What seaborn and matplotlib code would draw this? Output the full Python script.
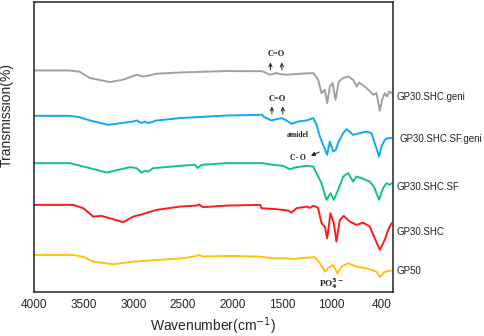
import numpy as np
import pandas as pd
import matplotlib
matplotlib.use('Agg')
import matplotlib.pyplot as plt
import seaborn as sns

# FTIR spectra (offset transmission, arbitrary units)
wn_geni = [4000, 3640, 3540, 3436, 3235, 3104, 2966, 2900, 2852, 2765, 2530, 2060, 1700, 1624, 1560, 1506,
           1455, 1321, 1187, 1137, 1103, 1070, 1046, 1019, 992, 962, 929, 885, 835, 785, 750, 724, 650, 583,
           550, 516, 493, 465, 442, 422, 398]
t_geni = [229.3, 229.3, 228, 221.7, 217.7, 220, 225, 223.3, 224, 226, 227.3, 228.7, 228.5, 225, 226.7, 225.5,
          225, 226, 226.7, 220, 206.7, 210, 196.7, 213.3, 216.7, 200, 218.3, 221.7, 223.3, 220, 213.3, 217.3,
          211.7, 205, 206.7, 189, 200, 206.7, 203.3, 208.3, 206.7]

wn_sf_geni = [4000, 3640, 3540, 3436, 3252, 3000, 2966, 2916, 2885, 2849, 2765, 2530, 2060, 1700, 1691, 1607,
              1557, 1506, 1456, 1405, 1338, 1254, 1187, 1153, 1120, 1087, 1046, 1020, 986, 959, 936, 885, 851,
              785, 718, 650, 600, 567, 523, 499, 466, 432, 398]
t_sf_geni = [184, 184, 182.5, 179.3, 175, 178.3, 179.3, 176.7, 178.3, 176.7, 179.3, 181.7, 184.3, 185, 183.3,
             179.3, 180.7, 181.7, 179.3, 176, 178.3, 179.3, 181.7, 175, 163.3, 155, 145, 158.3, 148.3, 150, 157,
             166.7, 170.7, 165, 166.7, 168.3, 166.7, 156.7, 143.3, 153.3, 160, 161.7, 161.7]

wn_sf = [4000, 3640, 3436, 3269, 3033, 2966, 2916, 2885, 2849, 2799, 2530, 2379, 2352, 2312, 2060, 1700, 1590,
         1490, 1422, 1355, 1254, 1187, 1137, 1103, 1053, 1013, 979, 936, 885, 835, 785, 751, 701, 617, 576,
         523, 483, 449, 416, 398]
t_sf = [136.7, 136.7, 131.7, 127.3, 132.7, 131.7, 127.3, 129, 128.3, 131.7, 134, 135, 131.7, 135, 136.7, 136.7,
        135, 134, 130.7, 132.7, 134, 133.3, 123.3, 116.7, 100, 106.7, 100, 110, 123.3, 126.7, 118.3, 123.3,
        121.7, 118.3, 113.3, 100, 111.7, 116.7, 115, 116.7]

wn_shc = [4000, 3604, 3503, 3403, 3319, 3202, 3101, 3000, 2933, 2765, 2530, 2362, 2340, 2295, 2060, 1720, 1708,
          1557, 1439, 1405, 1355, 1300, 1254, 1220, 1190, 1153, 1137, 1103, 1070, 1046, 1013, 979, 953, 919,
          879, 818, 751, 684, 617, 567, 516, 466, 432, 398]
t_shc = [95, 95, 91.7, 83.3, 84, 80.7, 77.7, 83.3, 85, 90, 93.3, 94.3, 95.5, 92.7, 94.3, 95, 91.7, 90.7, 89.3,
         87.3, 91.7, 92.5, 93.3, 92, 94, 93, 91.7, 76.7, 73.3, 61.7, 86.7, 76.7, 58.3, 80, 84, 78.3, 75, 77.3,
         73.3, 61.7, 50, 60, 70, 76.7]

wn_gp50 = [4000, 3604, 3500, 3403, 3201, 3000, 2497, 2362, 2340, 2300, 1993, 1725, 1591, 1456, 1389, 1321,
           1188, 1170, 1120, 1070, 1019, 986, 942, 902, 835, 751, 650, 550, 516, 466, 398]
t_gp50 = [45, 45, 43, 38.3, 35.7, 38.3, 41.7, 44, 45, 43.5, 44, 43.3, 41.7, 41.7, 40.7, 41.7, 42.7, 42.7,
          36.7, 28.3, 33.3, 35, 26.7, 33.3, 36.7, 33.3, 31.7, 28.3, 22.7, 28.3, 29.3]

samples = ['GP30.SHC.geni', 'GP30.SHC.SF.geni', 'GP30.SHC.SF', 'GP30.SHC', 'GP50']
colors = ['#a0a0a0', '#12a8f0', '#14c47a', '#ff1a1a', '#ffc20e']
xticks = [4000, 3500, 3000, 2500, 2000, 1500, 1000, 400]

spectra = {
    'GP30.SHC.geni': (wn_geni, t_geni),
    'GP30.SHC.SF.geni': (wn_sf_geni, t_sf_geni),
    'GP30.SHC.SF': (wn_sf, t_sf),
    'GP30.SHC': (wn_shc, t_shc),
    'GP50': (wn_gp50, t_gp50),
}
df = pd.concat([pd.DataFrame({'wavenumber': w, 'T': t, 'sample': s}) for s, (w, t) in spectra.items()],
               ignore_index=True)

sns.set_theme(style='white')
plt.rcParams['font.family'] = ['Liberation Sans', 'DejaVu Sans']

fig = plt.figure(figsize=(4.84, 3.36), dpi=100)
ax = fig.add_axes([0.0702, 0.131, 0.742, 0.864])

sns.lineplot(data=df, x='wavenumber', y='T', hue='sample', hue_order=samples,
             palette=colors, legend=False, linewidth=1.4, sort=False, ax=ax)

ax.set_xlim(4000, 382)
ax.set_ylim(8, 298)
ax.set_xticks(xticks)
ax.set_xticklabels([str(v) for v in xticks], fontsize=8.5)
for lab in ax.get_xticklabels():
    if lab.get_text() == '400':
        lab.set_ha('right')
ax.set_yticks([])
ax.tick_params(axis='x', length=0, pad=5)
for sp in ax.spines.values():
    sp.set_color('#222222')
    sp.set_linewidth(1.1)

ax.set_xlabel('Wavenumber(cm$^{-1}$)', fontsize=10, labelpad=3)
ax.set_ylabel('Transmission(%)', fontsize=10)
ax.yaxis.set_label_coords(-0.056, 0.61)

# sample names on the right
label_y = [0.711, 0.586, 0.443, 0.310, 0.193]
label_x = [0.820, 0.826, 0.820, 0.820, 0.820]
for s, x, y in zip(samples, label_x, label_y):
    fig.text(x, y, s, fontsize=7, va='center', ha='left', color='#222222')

# peak annotations
serif = dict(family='Liberation Serif', fontweight='bold', color='#222222')
ax.text(1563, 246, 'C=O', fontsize=6, ha='center', va='center', **serif)
ax.text(1553, 201, 'C=O', fontsize=6, ha='center', va='center', **serif)
for x0, y0, y1 in [(1618, 227, 240), (1503, 227, 240), (1603, 183, 196), (1493, 183, 196)]:
    ax.annotate('', xy=(x0, y1), xytext=(x0, y0),
                arrowprops=dict(arrowstyle='->', color='#222222', lw=0.7, mutation_scale=6))
ax.text(1342, 165, 'amidel', fontsize=5.5, ha='center', va='center', **serif)
ax.text(1342, 142, 'C- O', fontsize=5.5, ha='center', va='center', **serif)
ax.annotate('', xy=(1235, 143), xytext=(1100, 149),
            arrowprops=dict(arrowstyle='-|>', color='#222222', lw=0.7, mutation_scale=6))
ax.text(1000, 16, r'PO$_\mathbf{4}^\mathbf{3-}$', fontsize=6.5, ha='center', va='center', **serif)

fig.savefig('out.png', dpi=100)
